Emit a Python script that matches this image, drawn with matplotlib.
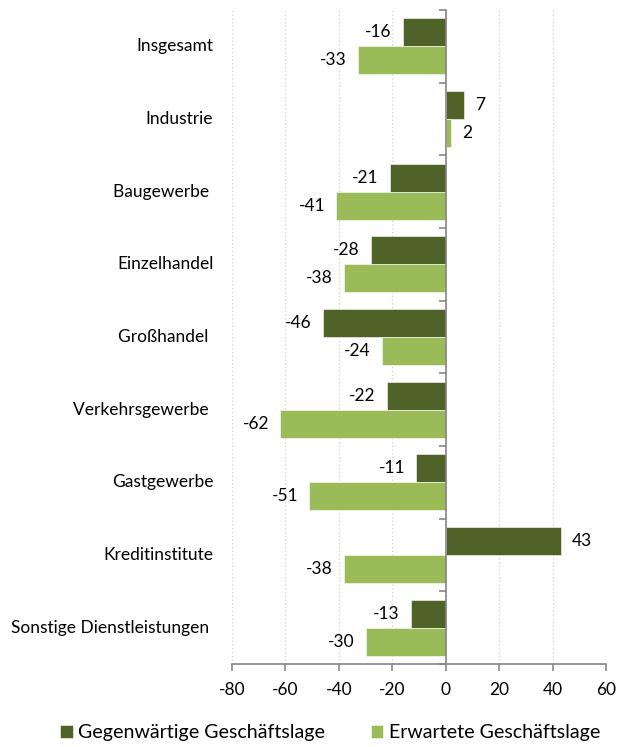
import matplotlib
matplotlib.use("Agg")
from matplotlib import pyplot as plt
from matplotlib.transforms import blended_transform_factory
import numpy as np

plt.rcParams["font.family"] = ["Lato", "DejaVu Sans"]

branchen = ["Insgesamt", "Industrie", "Baugewerbe ", "Einzelhandel", "Großhandel ",
            "Verkehrsgewerbe ", "Gastgewerbe", "Kreditinstitute", "Sonstige Dienstleistungen "]
gegenwaertig = [-16, 7, -21, -28, -46, -22, -11, 43, -13]
erwartet = [-33, 2, -41, -38, -24, -62, -51, -38, -30]
x_ticks = [-80, -60, -40, -20, 0, 20, 40, 60]

dunkel = "#4F6228"
hell = "#9BBB59"
grau = "#868686"

fig = plt.figure(figsize=(6.23, 7.47), dpi=100)
ax = fig.add_axes([232 / 623, 1 - 664 / 747, (606 - 232) / 623, (664 - 10) / 747])

pos = np.arange(len(branchen))
h = 0.385
b1 = ax.barh(pos - h / 2, gegenwaertig, height=h, color=dunkel, edgecolor="white", linewidth=0.4,
             label="Gegenwärtige Geschäftslage", zorder=3)
b2 = ax.barh(pos + h / 2, erwartet, height=h, color=hell, edgecolor="white", linewidth=0.4,
             label="Erwartete Geschäftslage", zorder=3)
ax.bar_label(b1, padding=8, fontsize=12.5, color="black")
ax.bar_label(b2, padding=8, fontsize=12.5, color="black")

ax.set_xlim(-80, 60)
ax.set_ylim(len(branchen) - 0.5, -0.5)
ax.set_xticks(x_ticks)
ax.set_xticklabels([str(t) for t in x_ticks], fontsize=12.5)
ax.grid(axis="x", color="#D0D0D0", linestyle=(0, (1, 2)), linewidth=0.9, zorder=0)

# y-Achse liegt bei 0, Striche an den Kategoriegrenzen
ax.spines["left"].set_position(("data", 0))
ax.spines["left"].set_color(grau)
ax.spines["left"].set_linewidth(1.2)
ax.spines["left"].set_zorder(4)
ax.spines["bottom"].set_color(grau)
ax.spines["bottom"].set_linewidth(1.2)
ax.spines["top"].set_visible(False)
ax.spines["right"].set_visible(False)
ax.set_yticks(np.arange(len(branchen) + 1) - 0.5)
ax.set_yticklabels([])
ax.tick_params(axis="y", length=5, color=grau, width=1.2)
ax.tick_params(axis="x", length=5, color=grau, width=1.2, pad=8)

trans = blended_transform_factory(ax.transAxes, ax.transData)
for i, name in enumerate(branchen):
    ax.text(-0.05, i, name, transform=trans, ha="right", va="center", fontsize=12.5)

fig.legend(handles=[b1, b2], loc="lower center", bbox_to_anchor=(0.53, -0.016), ncol=2,
           frameon=False, fontsize=14.1, handlelength=0.65, handleheight=0.65,
           handletextpad=0.3, columnspacing=2.3)

fig.savefig("out.png", dpi=100)
